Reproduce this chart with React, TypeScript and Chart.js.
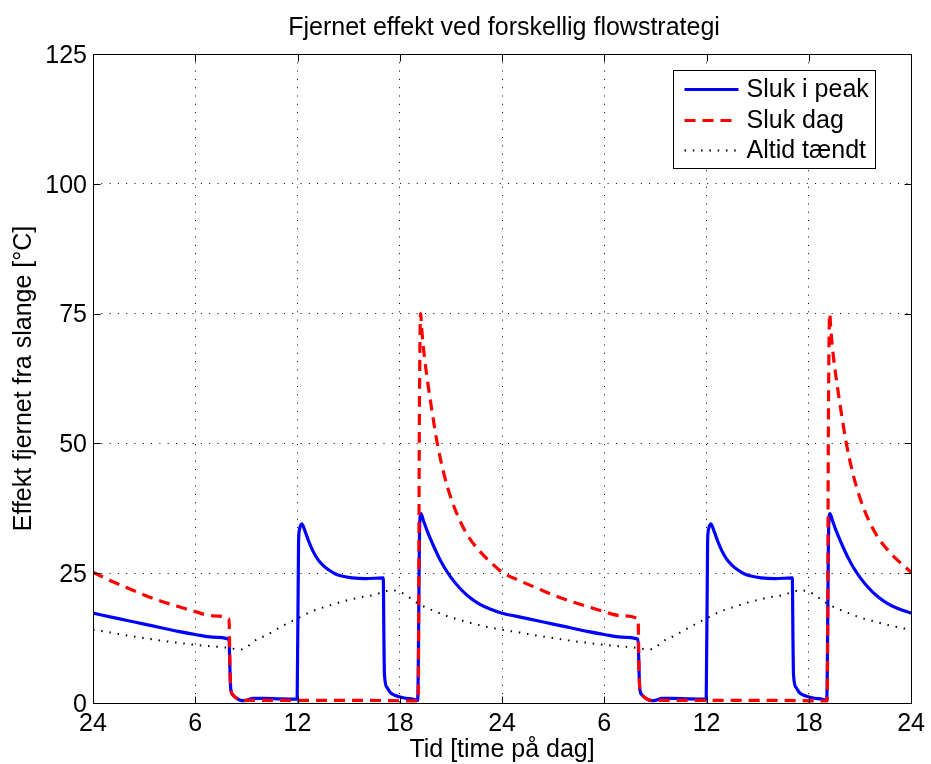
import React, { useEffect, useRef } from 'react';
import { Chart, registerables } from 'chart.js';

Chart.register(...registerables);

const FONT = '"Liberation Sans", Arial, Helvetica, sans-serif';

const chartTitle = 'Fjernet effekt ved forskellig flowstrategi';
const xAxisTitle = 'Tid [time på dag]';
const yAxisTitle = 'Effekt fjernet fra slange [°C]';
const seriesLabels = ['Sluk i peak', 'Sluk dag', 'Altid tændt'];
const xTickLabels = ['24', '6', '12', '18', '24', '6', '12', '18', '24'];
const xRange = [0, 48];
const yRange = [0, 125];

// Sluk i peak (blue)
const peakHours = [
  0, 1, 2, 3, 4, 5, 6, 7, 7.98, 8.04, 8.08, 8.2, 8.35, 8.6, 8.9, 9.4, 10, 11, 11.98, 12.06, 12.12, 12.25, 12.45, 12.65,
  12.9, 13.2, 13.5, 13.8, 14.2, 14.6, 15.2, 16, 17.03, 17.07, 17.1, 17.25, 17.45, 17.7, 18.2, 18.8, 19.05, 19.17,
  19.24, 19.4, 19.6, 19.8, 20, 20.3, 20.6, 21, 21.5, 22, 22.6, 23.3,
  24, 25, 26, 27, 28, 29, 30, 31, 31.98, 32.04, 32.08, 32.2, 32.35, 32.6, 32.9, 33.4, 34, 35, 35.98, 36.06, 36.12,
  36.25, 36.45, 36.65, 36.9, 37.2, 37.5, 37.8, 38.2, 38.6, 39.2, 40, 41.03, 41.07, 41.1, 41.25, 41.45, 41.7, 42.2,
  42.8, 43.05, 43.17, 43.24, 43.4, 43.6, 43.8, 44, 44.3, 44.6, 45, 45.5, 46, 46.6, 47.3, 48,
];
const peakValues = [
  17.3, 16.6, 15.9, 15.2, 14.5, 13.8, 13.2, 12.7, 12.3, 6, 2.8, 1.6, 1.1, 0.6, 0.45, 0.9, 0.9, 0.8, 0.75, 31, 33.5, 34.5,
  33.0, 31.2, 29.3, 27.6, 26.5, 25.7, 24.9, 24.45, 24.1, 23.95, 24.1, 12, 5.5, 3.0, 2.0, 1.5, 1.0, 0.7, 0.5, 34.5, 36.5,
  35.0, 33.2, 31.6, 30.1, 28.0, 26.2, 24.2, 22.2, 20.6, 19.2, 18.1,
  17.3, 16.6, 15.9, 15.2, 14.5, 13.8, 13.2, 12.7, 12.3, 6, 2.8, 1.6, 1.1, 0.6, 0.45, 0.9, 0.9, 0.8, 0.75, 31, 33.5, 34.5,
  33.0, 31.2, 29.3, 27.6, 26.5, 25.7, 24.9, 24.45, 24.1, 23.95, 24.1, 12, 5.5, 3.0, 2.0, 1.5, 1.0, 0.7, 0.5, 34.5, 36.5,
  35.0, 33.2, 31.6, 30.1, 28.0, 26.2, 24.2, 22.2, 20.6, 19.2, 18.1, 17.3,
];

// Sluk dag (red dashed)
const dayHours = [
  0, 1, 2, 3, 4, 5, 6, 7, 7.98, 8.04, 8.08, 8.2, 8.35, 8.6, 8.9, 12, 16, 19.08, 19.15, 19.22, 19.3, 19.45, 19.65, 19.9,
  20.2, 20.6, 21, 21.5, 22, 22.7, 23.4,
  24, 25, 26, 27, 28, 29, 30, 31, 31.98, 32.04, 32.08, 32.2, 32.35, 32.6, 32.9, 36, 40, 43.08, 43.15, 43.22, 43.3, 43.45,
  43.65, 43.9, 44.2, 44.6, 45, 45.5, 46, 46.7, 47.4, 48,
];
const dayValues = [
  25.2, 23.6, 22.2, 20.8, 19.6, 18.6, 17.6, 16.8, 16.2, 6, 2.8, 1.6, 1.1, 0.6, 0.5, 0.5, 0.5, 0.4, 55, 75, 71.5, 66.5,
  61.5, 56, 50, 44, 39.5, 35.3, 32.2, 29.2, 26.9,
  25.2, 23.6, 22.2, 20.8, 19.6, 18.6, 17.6, 16.8, 16.2, 6, 2.8, 1.6, 1.1, 0.6, 0.5, 0.5, 0.5, 0.4, 55, 75, 71.5, 66.5,
  61.5, 56, 50, 44, 39.5, 35.3, 32.2, 29.2, 26.9, 25.2,
];

// Altid tændt (black dotted)
const alwaysHours = [
  0, 1, 2, 3, 4, 5, 6, 7, 8, 8.6, 9, 9.4, 10.2, 11, 12, 12.8, 13.7, 14.6, 15.6, 16.6, 17.1, 17.5, 17.95, 18.35, 18.75,
  19.15, 19.6, 20.1, 20.9, 21.85, 22.8,
  24, 25, 26, 27, 28, 29, 30, 31, 32, 32.6, 33, 33.4, 34.2, 35, 36, 36.8, 37.7, 38.6, 39.6, 40.6, 41.1, 41.5, 41.95,
  42.35, 42.75, 43.15, 43.6, 44.1, 44.9, 45.85, 46.8, 48,
];
const alwaysValues = [
  14.1, 13.6, 13.0, 12.5, 12.0, 11.6, 11.2, 10.9, 10.6, 10.3, 10.7, 11.8, 13.1, 14.6, 16.3, 17.6, 18.6, 19.5, 20.3, 20.9,
  21.5, 21.7, 21.5, 20.8, 19.9, 19.0, 18.3, 17.6, 16.6, 15.7, 14.9,
  14.1, 13.6, 13.0, 12.5, 12.0, 11.6, 11.2, 10.9, 10.6, 10.3, 10.7, 11.8, 13.1, 14.6, 16.3, 17.6, 18.6, 19.5, 20.3, 20.9,
  21.5, 21.7, 21.5, 20.8, 19.9, 19.0, 18.3, 17.6, 16.6, 15.7, 14.9, 14.1,
];

const toPoints = (hours: number[], values: number[]) => hours.map((h, i) => ({ x: h, y: values[i] }));

const titlePlugin = {
  id: 'matlabTitle',
  afterDraw(chart: any) {
    const { ctx, chartArea: a } = chart;
    ctx.save();
    ctx.fillStyle = '#000';
    ctx.font = `25px ${FONT}`;
    ctx.textAlign = 'center';
    ctx.textBaseline = 'alphabetic';
    ctx.fillText(chartTitle, (a.left + a.right) / 2 + 2, a.top - 19);
    ctx.restore();
  },
};

const framePlugin = {
  id: 'matlabFrame',
  afterDatasetsDraw(chart: any) {
    const { ctx, chartArea: a, scales } = chart;
    const L = Math.round(a.left) + 0.5;
    const R = Math.round(a.right) + 0.5;
    const T = Math.round(a.top) + 0.5;
    const B = Math.round(a.bottom) + 0.5;
    const tl = 7;
    ctx.save();
    ctx.strokeStyle = '#000';
    ctx.lineWidth = 1;
    ctx.setLineDash([]);
    ctx.beginPath();
    ctx.rect(L, T, R - L, B - T);
    scales.x.ticks.forEach((t: any) => {
      const px = Math.round(scales.x.getPixelForValue(t.value)) + 0.5;
      ctx.moveTo(px, B);
      ctx.lineTo(px, B - tl);
      ctx.moveTo(px, T);
      ctx.lineTo(px, T + tl);
    });
    scales.y.ticks.forEach((t: any) => {
      const py = Math.round(scales.y.getPixelForValue(t.value)) + 0.5;
      ctx.moveTo(L, py);
      ctx.lineTo(L + tl, py);
      ctx.moveTo(R, py);
      ctx.lineTo(R - tl, py);
    });
    ctx.stroke();
    ctx.restore();
  },
};

const legendPlugin = {
  id: 'matlabLegend',
  afterDatasetsDraw(chart: any) {
    const { ctx, chartArea: a } = chart;
    const left = Math.round(a.right - 238) + 0.5;
    const top = Math.round(a.top + 16) + 0.5;
    const w = 202;
    const h = 98;
    ctx.save();
    ctx.fillStyle = '#fff';
    ctx.fillRect(left, top, w, h);
    ctx.strokeStyle = '#000';
    ctx.lineWidth = 1;
    ctx.setLineDash([]);
    ctx.strokeRect(left, top, w, h);
    const rows = [19, 50, 80];
    chart.data.datasets.forEach((ds: any, i: number) => {
      const y = top + rows[i];
      ctx.save();
      ctx.strokeStyle = ds.borderColor;
      ctx.lineWidth = ds.borderWidth;
      ctx.setLineDash(ds.borderDash || []);
      ctx.beginPath();
      ctx.moveTo(left + 11, y);
      ctx.lineTo(left + 65, y);
      ctx.stroke();
      ctx.restore();
      ctx.fillStyle = '#000';
      ctx.font = `25px ${FONT}`;
      ctx.textAlign = 'left';
      ctx.textBaseline = 'middle';
      ctx.fillText(ds.label, left + 73, y + 1);
    });
    ctx.restore();
  },
};

export default function App() {
  const canvasRef = useRef<HTMLCanvasElement | null>(null);

  useEffect(() => {
    const canvas = canvasRef.current;
    if (!canvas) return;
    const gridStyle = { color: '#000', lineWidth: 1, drawTicks: false, drawOnChartArea: true };
    const chart = new Chart(canvas, {
      type: 'line',
      data: {
        datasets: [
          {
            label: seriesLabels[0],
            data: toPoints(peakHours, peakValues),
            borderColor: '#0000ff',
            borderWidth: 3.2,
            pointRadius: 0,
            cubicInterpolationMode: 'monotone',
            order: 2,
          },
          {
            label: seriesLabels[1],
            data: toPoints(dayHours, dayValues),
            borderColor: '#ff0000',
            borderWidth: 3.2,
            borderDash: [11, 7],
            pointRadius: 0,
            cubicInterpolationMode: 'monotone',
            order: 1,
          },
          {
            label: seriesLabels[2],
            data: toPoints(alwaysHours, alwaysValues),
            borderColor: '#000000',
            borderWidth: 2,
            borderDash: [1.5, 6.8],
            pointRadius: 0,
            cubicInterpolationMode: 'monotone',
            order: 0,
          },
        ],
      },
      options: {
        animation: false,
        responsive: false,
        devicePixelRatio: 1,
        layout: { padding: { top: 54, right: 16, left: 0, bottom: 0 } },
        plugins: {
          legend: { display: false },
          title: { display: false },
          tooltip: { enabled: false },
        },
        scales: {
          x: {
            type: 'linear',
            min: xRange[0],
            max: xRange[1],
            afterFit: (s: any) => {
              s.height = 61;
            },
            afterBuildTicks: (s: any) => {
              s.ticks = xTickLabels.map((_, i) => ({ value: xRange[0] + (i * (xRange[1] - xRange[0])) / (xTickLabels.length - 1) }));
            },
            ticks: {
              font: { family: FONT, size: 25 },
              color: '#000',
              padding: 6,
              maxRotation: 0,
              autoSkip: false,
              callback: (_v: any, i: number) => xTickLabels[i],
            },
            grid: gridStyle,
            border: { display: false, dash: [1, 7.3] },
            title: {
              display: true,
              text: xAxisTitle,
              color: '#000',
              font: { family: FONT, size: 25, lineHeight: 1 },
              padding: { top: 0, bottom: 1 },
            },
          },
          y: {
            type: 'linear',
            min: yRange[0],
            max: yRange[1],
            afterFit: (s: any) => {
              s.width = 93;
            },
            ticks: {
              stepSize: 25,
              font: { family: FONT, size: 25 },
              color: '#000',
              padding: 6,
              labelOffset: 2,
            },
            grid: gridStyle,
            border: { display: false, dash: [1, 7.3] },
            title: {
              display: true,
              text: yAxisTitle,
              color: '#000',
              font: { family: FONT, size: 25, lineHeight: 1 },
              padding: { top: 12, bottom: 0 },
            },
          },
        },
      },
      plugins: [framePlugin, legendPlugin, titlePlugin],
    } as any);
    return () => chart.destroy();
  }, []);

  return (
    <div style={{ position: 'absolute', left: 0, top: 0, width: 931, height: 764, background: '#fff' }}>
      <canvas ref={canvasRef} width={931} height={764} style={{ width: 931, height: 764, display: 'block' }} />
    </div>
  );
}
